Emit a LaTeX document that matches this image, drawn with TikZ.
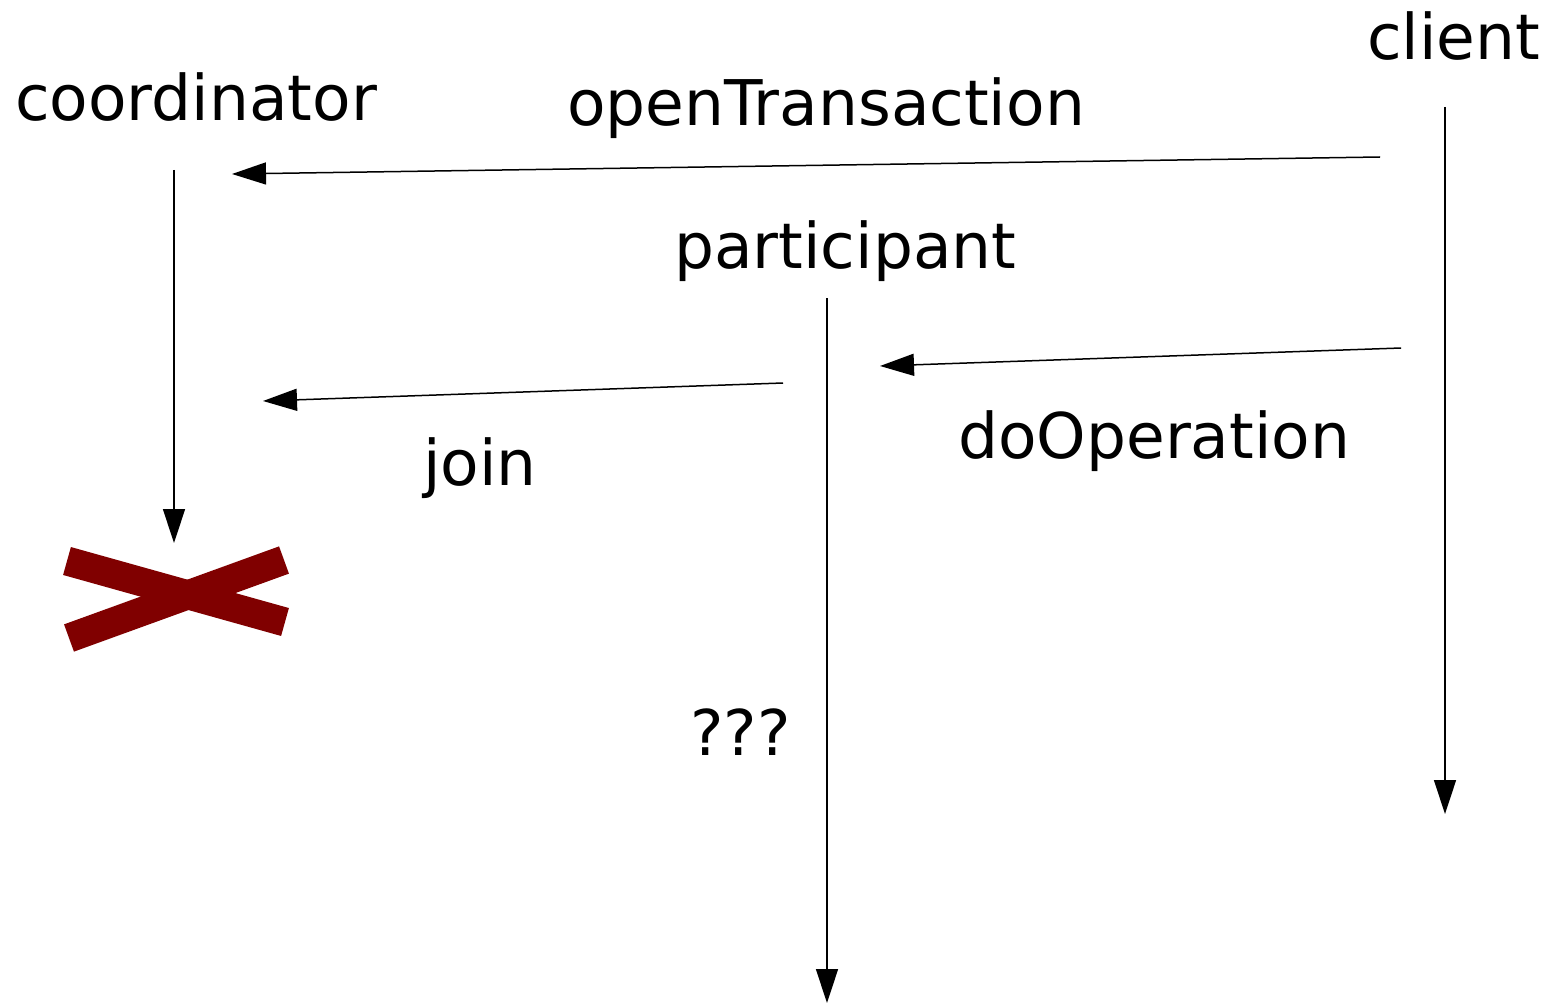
\documentclass[tikz,border=0pt]{standalone}
\usepackage{fontspec}
\setmainfont{DejaVu Sans}
\usetikzlibrary{arrows.meta}
\begin{document}
\begin{tikzpicture}[x=1pt,y=-1pt,
  lbl/.style={anchor=base west,inner sep=0pt,font=\fontsize{63}{70}\selectfont},
  msg/.style={line width=1.5pt,-{Triangle[length=34pt,width=22pt]}},
  xbar/.style={line width=29pt,draw={rgb,255:red,128;green,0;blue,0}}]
\useasboundingbox (0,0) rectangle (1558,1003);
\node[lbl] (tcoord) at (15,121) {coordinator};
\node[lbl] (topen) at (567,126) {openTransaction};
\node[lbl] (tclient) at (1367,60) {client};
\node[lbl] (tpart) at (674,268) {participant};
\node[lbl] (tdo) at (958,458) {doOperation};
\node[lbl] (tjoin) at (423,485) {join};
\node[lbl] (tq) at (690,755) {???};
% lifelines
\coordinate (c0) at (174,170); \coordinate (c1) at (174,543);
\coordinate (k0) at (1445,107); \coordinate (k1) at (1445,814);
\coordinate (p0) at (827,298); \coordinate (p1) at (827,1003);
\draw[msg] (c0) -- (c1);
\draw[msg] (k0) -- (k1);
\draw[msg] (p0) -- (p1);
% messages
\coordinate (o0) at (1380,157); \coordinate (o1) at (232,174);
\coordinate (d0) at (1401,348); \coordinate (d1) at (880,366);
\coordinate (j0) at (783,383); \coordinate (j1) at (263,401);
\draw[msg] (o0) -- (o1);
\draw[msg] (d0) -- (d1);
\draw[msg] (j0) -- (j1);
% cross
\coordinate (x1a) at (67,561); \coordinate (x1b) at (285,622);
\coordinate (x2a) at (69,638); \coordinate (x2b) at (284,560);
\draw[xbar] (x1a) -- (x1b);
\draw[xbar] (x2a) -- (x2b);
\end{tikzpicture}
\end{document}
